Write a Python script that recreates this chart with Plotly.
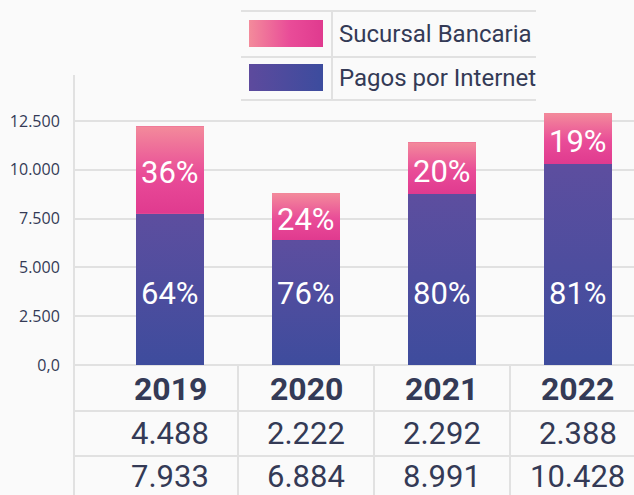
import base64
import plotly.graph_objects as go

# ---------------- data ----------------
years = ["2019", "2020", "2021", "2022"]
series_names = ["Sucursal Bancaria", "Pagos por Internet"]
# table values (as printed)
sucursal = [4488, 2222, 2292, 2388]          # Sucursal Bancaria
internet = [7933, 6884, 8991, 10428]         # Pagos por Internet
# bar segment heights as drawn in the picture
bar_internet = [7750, 6400, 8760, 10300]
bar_sucursal = [4490, 2410, 2660, 2610]
y_tickvals = [0, 2500, 5000, 7500, 10000, 12500]
y_ticktext = ["0,0", "2.500", "5.000", "7.500", "10.000", "12.500"]

# ---------------- styles ----------------
PINK = "#ea5a95"
BLUE = "#4b4c9d"
TXT = "#343a56"
GRID = "#e1e1e1"
BG = "#fafafa"

W, H = 634, 495
L, R, T, B = 74, 0, 75, 130
PH = H - T - B
PW = W - L - R


def yp(px):
    return (H - B - px) / PH


def xp(px):
    return (px - L) / PW


def fmt(v):
    return f"{v:,}".replace(",", ".")


def grad_uri(stops, vertical=True):
    x2, y2 = ("0", "1") if vertical else ("1", "0")
    st = "".join(f'<stop offset="{o}" stop-color="{c}"/>' for o, c in stops)
    svg = (f'<svg xmlns="http://www.w3.org/2000/svg" width="100" height="100" viewBox="0 0 100 100" '
           f'preserveAspectRatio="none"><defs><linearGradient id="g" x1="0" y1="0" x2="{x2}" y2="{y2}">'
           f'{st}</linearGradient></defs><rect width="100" height="100" fill="url(#g)"/></svg>')
    return "data:image/svg+xml;base64," + base64.b64encode(svg.encode()).decode()


PINK_STOPS = [(0, "#f38b9b"), (0.55, "#e94c98"), (1, "#e03a8f")]
BLUE_STOPS = [(0, "#5d4e9f"), (1, "#3e4c9d")]
PINK_V = grad_uri(PINK_STOPS, True)
BLUE_V = grad_uri(BLUE_STOPS, True)
PINK_H = grad_uri(PINK_STOPS, False)
BLUE_H = grad_uri([(0, "#5d4a9d"), (1, "#3c4c9e")], False)

totals = [a + b for a, b in zip(sucursal, internet)]
pct_suc = [round(s / t * 100) for s, t in zip(sucursal, totals)]
pct_int = [100 - p for p in pct_suc]
xs = list(range(len(years)))
BAR_W = 0.5

fig = go.Figure()
fig.add_trace(go.Bar(x=xs, y=bar_internet, name=series_names[1], width=BAR_W,
                     marker=dict(color=BLUE, line=dict(width=0)), hoverinfo="skip"))
fig.add_trace(go.Bar(x=xs, y=bar_sucursal, name=series_names[0], width=BAR_W,
                     marker=dict(color=PINK, line=dict(width=0)), hoverinfo="skip"))

shapes, annotations, images = [], [], []

# gradient overlays on the bar segments (same geometry as the bars)
for i in xs:
    images.append(dict(source=BLUE_V, xref="x", yref="y", x=i - BAR_W / 2, y=bar_internet[i],
                       sizex=BAR_W, sizey=bar_internet[i], xanchor="left", yanchor="top",
                       sizing="stretch", layer="above"))
    images.append(dict(source=PINK_V, xref="x", yref="y", x=i - BAR_W / 2,
                       y=bar_internet[i] + bar_sucursal[i], sizex=BAR_W, sizey=bar_sucursal[i],
                       xanchor="left", yanchor="top", sizing="stretch", layer="above"))
    # percentage labels
    annotations.append(dict(xref="x", yref="y", x=i, y=bar_internet[i] + bar_sucursal[i] / 2, yshift=-3,
                            text=f"{pct_suc[i]}%", showarrow=False,
                            font=dict(family="Roboto", size=31, color="white"),
                            xanchor="center", yanchor="middle"))
    annotations.append(dict(xref="x", yref="paper", x=i, y=yp(293),
                            text=f"{pct_int[i]}%", showarrow=False,
                            font=dict(family="Roboto", size=31, color="white"),
                            xanchor="center", yanchor="middle"))

# y axis line extending through the table
shapes.append(dict(type="line", xref="paper", yref="paper", x0=0, x1=0, y0=1.0, y1=yp(H),
                   line=dict(color=GRID, width=2), layer="below"))
for row_px in [H - B, 411, 456]:
    shapes.append(dict(type="line", xref="paper", yref="paper", x0=0, x1=1, y0=yp(row_px), y1=yp(row_px),
                       line=dict(color=GRID, width=2), layer="below"))
for i in range(len(years) - 1):
    shapes.append(dict(type="line", xref="x", yref="paper", x0=i + 0.5, x1=i + 0.5, y0=0, y1=yp(H),
                       line=dict(color=GRID, width=2), layer="below"))

# table text
row_centers = [389, 433, 476]
for i, yr in enumerate(years):
    annotations.append(dict(xref="x", yref="paper", x=i, y=yp(row_centers[0]), text=f"<b>{yr}</b>",
                            showarrow=False, font=dict(family="Roboto", size=32, color=TXT),
                            xanchor="center", yanchor="middle"))
    annotations.append(dict(xref="x", yref="paper", x=i, y=yp(row_centers[1]), text=fmt(sucursal[i]),
                            showarrow=False, font=dict(family="Roboto", size=31, color=TXT),
                            xanchor="center", yanchor="middle"))
    annotations.append(dict(xref="x", yref="paper", x=i, y=yp(row_centers[2]), text=fmt(internet[i]),
                            showarrow=False, font=dict(family="Roboto", size=31, color=TXT),
                            xanchor="center", yanchor="middle"))

# custom legend (table style)
for ly in [11, 57, 100]:
    shapes.append(dict(type="line", xref="paper", yref="paper", x0=xp(241), x1=xp(536), y0=yp(ly), y1=yp(ly),
                       line=dict(color=GRID, width=2)))
shapes.append(dict(type="line", xref="paper", yref="paper", x0=xp(332), x1=xp(332), y0=yp(11), y1=yp(100),
                   line=dict(color=GRID, width=2)))
leg_sources = [PINK_H, BLUE_H]
for k, (nm, src) in enumerate(zip(series_names, leg_sources)):
    top = 20 + 44 * k
    images.append(dict(source=src, xref="paper", yref="paper", x=xp(249), y=yp(top),
                       sizex=xp(323) - xp(249), sizey=27 / PH, xanchor="left", yanchor="top",
                       sizing="stretch", layer="above"))
    annotations.append(dict(xref="paper", yref="paper", x=xp(337), y=yp(top + 14), text=nm,
                            showarrow=False, font=dict(family="Roboto", size=24, color=TXT),
                            xanchor="left", yanchor="middle"))

fig.update_layout(
    width=W, height=H,
    margin=dict(l=L, r=R, t=T, b=B, pad=0),
    paper_bgcolor=BG, plot_bgcolor=BG,
    barmode="stack", showlegend=False,
    xaxis=dict(range=[-0.706, 3.412], showticklabels=False, showgrid=False, zeroline=False,
               showline=False, fixedrange=True),
    yaxis=dict(range=[0, 14860], tickvals=y_tickvals, ticktext=y_ticktext,
               showgrid=True, gridcolor=GRID, gridwidth=2, zeroline=False, showline=False,
               ticks="outside", ticklen=10, tickcolor="rgba(0,0,0,0)",
               tickfont=dict(family="Open Sans", size=16, color=TXT), fixedrange=True),
    shapes=shapes, annotations=annotations, images=images,
)

fig.write_html(
    "out.html",
    config={"displayModeBar": False},
    post_script="document.body.style.margin='0';document.body.style.overflow='hidden';",
)
